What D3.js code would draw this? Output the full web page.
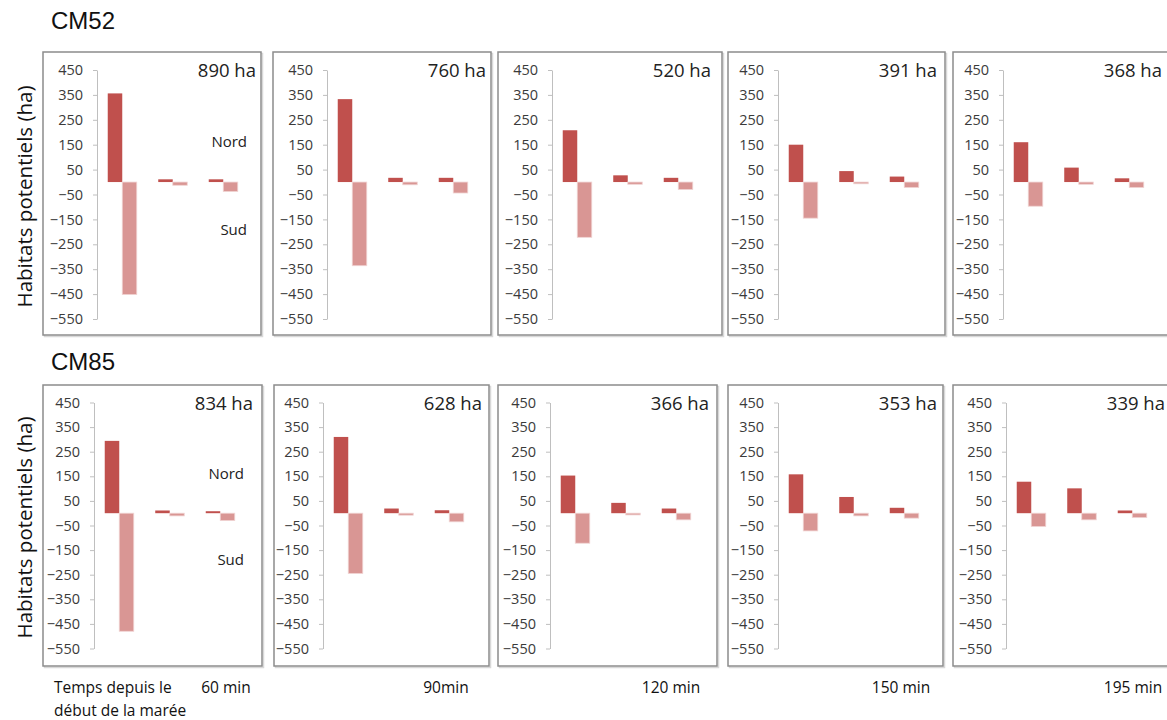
<!DOCTYPE html>
<html>
<head>
<meta charset="utf-8">
<script src="https://cdn.jsdelivr.net/npm/d3@7"></script>
<style>
    body { margin: 0; background: #fff; }
    svg { display: block; font-family: "Open Sans", sans-serif; }
    .axis path, .axis line { stroke: #bfbfbf; }
    .axis text { fill: #3a3a3a; font-size: 14.5px; font-family: "Open Sans", sans-serif; }
</style>
</head>
<body>
<div id="chart"></div>
<script>
// data
const rowTitles = ["CM52", "CM85"];
const timeLabels = ["60 min", "90min", "120 min", "150 min", "195 min"];
const groups = ["A", "B", "C"];
const series = ["Nord", "Sud"];
const yTicks = [450, 350, 250, 150, 50, -50, -150, -250, -350, -450, -550];

const totalsCM52 = [890, 760, 520, 391, 368];
const totalsCM85 = [834, 628, 366, 353, 339];

const nordCM52 = [[356, 11, 11], [333, 17, 17], [208, 27, 17], [150, 44, 22], [160, 58, 15]];
const sudCM52 = [[-452, -13, -38], [-336, -11, -44], [-222, -9, -30], [-145, -7, -22], [-97, -9, -22]];
const nordCM85 = [[294, 11, 8], [310, 19, 12], [153, 42, 19], [158, 66, 22], [128, 101, 11]];
const sudCM85 = [[-480, -11, -30], [-245, -8, -35], [-122, -7, -27], [-72, -11, -20], [-54, -27, -18]];

const colors = { Nord: "#c0504d", Sud: "#d99694" };

// layout of the two rows of panels
const rowsLayout = [
    { titleY: 29, boxTop: 52, boxBottom: 335, tickTop: 70, tickBottom: 319,
      boxes: [[43, 261], [273, 491], [498, 722], [728, 945], [953, 1172]],
      axisX: [97, 327, 552, 778, 1003] },
    { titleY: 370, boxTop: 385, boxBottom: 666, tickTop: 402.5, tickBottom: 648.5,
      boxes: [[43, 262], [274, 489], [498, 717], [728, 943], [953, 1172]],
      axisX: [94, 323, 550, 778, 1006] }
];
const timeLabelX = [226, 446, 671, 901, 1133];

const rowData = [
    { title: rowTitles[0], totals: totalsCM52, nord: nordCM52, sud: sudCM52 },
    { title: rowTitles[1], totals: totalsCM85, nord: nordCM85, sud: sudCM85 }
];

const width = 1167, height = 720;
const svg = d3.select("#chart").append("svg")
    .attr("width", width)
    .attr("height", height);

rowData.forEach((row, ri) => {
    const L = rowsLayout[ri];

    svg.append("text")
        .attr("x", 51)
        .attr("y", L.titleY)
        .attr("font-family", "Liberation Sans, Arial, sans-serif")
        .attr("font-size", 24)
        .attr("fill", "#111")
        .text(row.title);

    const midY = (L.tickTop + L.tickBottom) / 2 + 2;
    svg.append("text")
        .attr("transform", `translate(32,${midY}) rotate(-90)`)
        .attr("text-anchor", "middle")
        .attr("font-size", 20.5)
        .attr("fill", "#111")
        .text("Habitats potentiels (ha)");

    const y = d3.scaleLinear()
        .domain([-550, 450])
        .range([L.tickBottom, L.tickTop]);

    L.boxes.forEach((b, pi) => {
        const ax = L.axisX[pi];
        const g = svg.append("g").attr("class", "panel");

        // frame, with a light shadow
        g.append("rect")
            .attr("x", b[0] + 1.5).attr("y", L.boxTop + 1.5)
            .attr("width", b[1] - b[0]).attr("height", L.boxBottom - L.boxTop)
            .attr("fill", "none").attr("stroke", "#d8d8d8").attr("stroke-width", 1.5);
        g.append("rect")
            .attr("x", b[0]).attr("y", L.boxTop)
            .attr("width", b[1] - b[0]).attr("height", L.boxBottom - L.boxTop)
            .attr("fill", "#fff").attr("stroke", "#8c8c8c").attr("stroke-width", 1.5);

        const x0 = d3.scaleBand()
            .domain(groups)
            .range([ax, ax + 151.5]);
        const x1 = d3.scaleBand()
            .domain(series)
            .range([0, x0.bandwidth()])
            .paddingOuter(0.74);

        g.append("g")
            .attr("class", "axis")
            .attr("transform", `translate(${ax},0)`)
            .call(d3.axisLeft(y).tickValues(yTicks).tickSize(4).tickSizeOuter(0).tickPadding(10))
            .call(s => s.selectAll(".tick line").attr("stroke", "#bfbfbf"));

        const nordVals = row.nord[pi];
        const sudVals = row.sud[pi];
        const bars = [];
        groups.forEach((grp, gi) => {
            bars.push({ grp, s: "Nord", v: nordVals[gi] });
            bars.push({ grp, s: "Sud", v: sudVals[gi] });
        });

        g.selectAll(".bar")
            .data(bars)
            .join("rect")
            .attr("class", "bar")
            .attr("x", d => x0(d.grp) + x1(d.s))
            .attr("width", x1.bandwidth())
            .attr("y", d => y(Math.max(0, d.v)))
            .attr("height", d => Math.abs(y(d.v) - y(0)))
            .attr("fill", d => colors[d.s])
            .attr("stroke", d => d.s === "Sud" ? "#f0d4d3" : "none")
            .attr("stroke-width", 0.8);

        g.append("text")
            .attr("x", ax + 159)
            .attr("y", L.tickTop + 7)
            .attr("text-anchor", "end")
            .attr("font-size", 18.5)
            .attr("fill", "#222")
            .text(`${row.totals[pi]} ha`);

        if (pi === 0) {
            g.append("text")
                .attr("x", ax + 150)
                .attr("y", y(160))
                .attr("dy", "0.35em")
                .attr("text-anchor", "end")
                .attr("font-size", 15)
                .attr("fill", "#222")
                .text("Nord");
            g.append("text")
                .attr("x", ax + 150)
                .attr("y", y(-190))
                .attr("dy", "0.35em")
                .attr("text-anchor", "end")
                .attr("font-size", 15)
                .attr("fill", "#222")
                .text("Sud");
        }
    });
});

// time labels under the bottom row
svg.append("text")
    .attr("x", 54).attr("y", 693)
    .attr("font-size", 15.5).attr("fill", "#111")
    .text("Temps depuis le");
svg.append("text")
    .attr("x", 54).attr("y", 716)
    .attr("font-size", 15.5).attr("fill", "#111")
    .text("début de la marée");

svg.selectAll(".time-label")
    .data(timeLabels)
    .join("text")
    .attr("class", "time-label")
    .attr("x", (d, i) => timeLabelX[i])
    .attr("y", 693)
    .attr("text-anchor", "middle")
    .attr("font-size", 15.5)
    .attr("fill", "#111")
    .text(d => d);
</script>
</body>
</html>
